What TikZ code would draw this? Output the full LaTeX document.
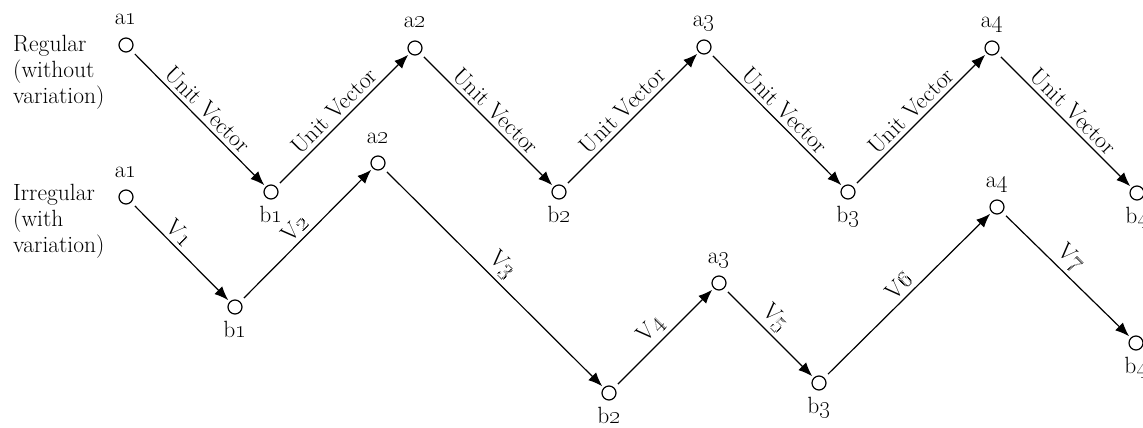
\documentclass[tikz,border=0pt]{standalone}
\usetikzlibrary{arrows.meta}
\newcommand\osn[1]{\oldstylenums{#1}}
\begin{document}
\begin{tikzpicture}[x=1pt,y=-1pt,
  font=\fontsize{23.5}{26}\selectfont,
  pt/.style={circle,draw,line width=1.2pt,minimum size=14pt,inner sep=0pt},
  alab/.style={anchor=base,inner sep=0pt},
  vec/.style={line width=1.2pt,-{Latex[length=14pt,width=11pt]},shorten <=5pt,shorten >=2pt},
  lab/.style={sloped,above,inner sep=4pt}]
\useasboundingbox (0,0) rectangle (1143,428);
% left texts
\node[anchor=north west,align=left,inner sep=0pt] (treg) at (13,35) {Regular\\(without\\variation)};
\node[anchor=north west,align=left,inner sep=0pt] (tirr) at (13,184) {Irregular\\(with\\variation)};
% top row
\node[pt] (ta1) at (126,45) {};
\node[pt] (tb1) at (271,192) {};
\node[pt] (ta2) at (415,48) {};
\node[pt] (tb2) at (559,192) {};
\node[pt] (ta3) at (704,47) {};
\node[pt] (tb3) at (848,192) {};
\node[pt] (ta4) at (992,48) {};
\node[pt] (tb4) at (1137,193) {};
% bottom row
\node[pt] (ba1) at (126,197) {};
\node[pt] (bb1) at (235,307) {};
\node[pt] (ba2) at (378,163) {};
\node[pt] (bb2) at (609,393) {};
\node[pt] (ba3) at (719,283) {};
\node[pt] (bb3) at (819,383) {};
\node[pt] (ba4) at (997,207) {};
\node[pt] (bb4) at (1136,343) {};
% point labels
\foreach \n/\t in {ta1/a\osn{1},ta2/a\osn{2},ta3/a\osn{3},ta4/a\osn{4},ba1/a\osn{1},ba2/a\osn{2},ba3/a\osn{3},ba4/a\osn{4}}
  \node[alab] (\n-l) at ([yshift=20pt]\n.center) {\t};
\foreach \n/\t in {tb1/b\osn{1},tb2/b\osn{2},tb3/b\osn{3},tb4/b\osn{4},bb1/b\osn{1},bb2/b\osn{2},bb3/b\osn{3},bb4/b\osn{4}}
  \node[alab] (\n-l) at ([yshift=-30pt]\n.center) {\t};
% top edges
\draw[vec] (ta1) -- node[lab] (u1) {Unit Vector} (tb1);
\draw[vec] (tb1) -- node[lab] (u2) {Unit Vector} (ta2);
\draw[vec] (ta2) -- node[lab] (u3) {Unit Vector} (tb2);
\draw[vec] (tb2) -- node[lab] (u4) {Unit Vector} (ta3);
\draw[vec] (ta3) -- node[lab] (u5) {Unit Vector} (tb3);
\draw[vec] (tb3) -- node[lab] (u6) {Unit Vector} (ta4);
\draw[vec] (ta4) -- node[lab] (u7) {Unit Vector} (tb4);
% bottom edges
\draw[vec] (ba1) -- node[lab,pos=0.4] (v1) {V\osn{1}} (bb1);
\draw[vec] (bb1) -- node[lab,pos=0.48] (v2) {V\osn{2}} (ba2);
\draw[vec] (ba2) -- node[lab,pos=0.49] (v3) {V\osn{3}} (bb2);
\draw[vec] (bb2) -- node[lab,pos=0.48] (v4) {V\osn{4}} (ba3);
\draw[vec] (ba3) -- node[lab,pos=0.45] (v5) {V\osn{5}} (bb3);
\draw[vec] (bb3) -- node[lab,pos=0.5] (v6) {V\osn{6}} (ba4);
\draw[vec] (ba4) -- node[lab,pos=0.45] (v7) {V\osn{7}} (bb4);
\end{tikzpicture}
\end{document}
